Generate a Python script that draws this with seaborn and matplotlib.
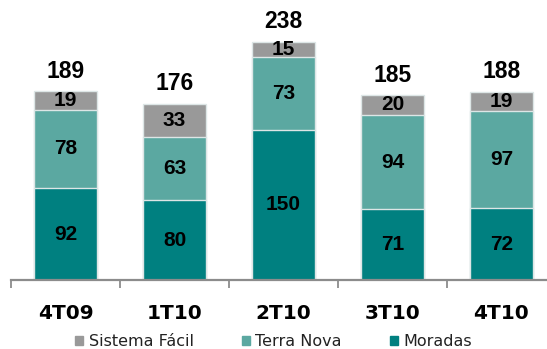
import matplotlib
matplotlib.use("Agg")
import matplotlib.pyplot as plt
import seaborn as sns
import pandas as pd
import numpy as np
from matplotlib.ticker import FixedLocator
from matplotlib.patches import Patch

categories = ["4T09", "1T10", "2T10", "3T10", "4T10"]
moradas = [92, 80, 150, 71, 72]
terra_nova = [78, 63, 73, 94, 97]
sistema_facil = [19, 33, 15, 20, 19]
totals = [189, 176, 238, 185, 188]

c_mor = "#008080"
c_tn = "#5ba8a1"
c_sf = "#999999"

df = pd.DataFrame({"cat": categories, "mor": moradas, "tn": terra_nova, "sf": sistema_facil})
df["top_tn"] = df["mor"] + df["tn"]
df["top_sf"] = df["top_tn"] + df["sf"]

sns.set_style("white")
plt.rcParams["font.family"] = ["DejaVu Sans"]
fig = plt.figure(figsize=(5.47, 3.49), dpi=100)
ax = fig.add_axes([11/547, 69/349, 545/547, 270/349])

ec = "#dde6e6"
kw = dict(x="cat", saturation=1, width=0.57, ax=ax, edgecolor=ec, linewidth=1.0)
sns.barplot(data=df, y="top_sf", color=c_sf, **kw)
sns.barplot(data=df, y="top_tn", color=c_tn, **kw)
sns.barplot(data=df, y="mor", color=c_mor, **kw)

ax.set_xlim(-0.5, 4.5)
ax.set_ylim(0, 270)
ax.set_xlabel("")
ax.set_ylabel("")
ax.set_yticks([])
for s in ["top", "right", "left"]:
    ax.spines[s].set_visible(False)
ax.spines["bottom"].set_color("#8c8c8c")
ax.spines["bottom"].set_linewidth(1.6)

ax.tick_params(axis="x", which="major", length=0, pad=17, labelsize=14.5)
for lbl in ax.get_xticklabels():
    lbl.set_fontweight("bold")
    lbl.set_color("black")
ax.xaxis.set_minor_locator(FixedLocator(np.arange(-0.5, 5.0, 1.0)))
ax.tick_params(axis="x", which="minor", bottom=True, length=6, width=1.3, color="#8c8c8c", direction="out")

arial = ["Liberation Sans", "DejaVu Sans"]
for i in range(len(categories)):
    m, t, s = moradas[i], terra_nova[i], sistema_facil[i]
    ax.text(i, m / 2, str(m), ha="center", va="center", fontsize=15, fontweight="bold", color="black", family=arial)
    ax.text(i, m + t / 2, str(t), ha="center", va="center", fontsize=15, fontweight="bold", color="black", family=arial)
    ax.text(i, m + t + s / 2, str(s), ha="center", va="center", fontsize=15, fontweight="bold", color="black", family=arial)
    ax.text(i, m + t + s + 20, str(totals[i]), ha="center", va="center", fontsize=16.5, fontweight="bold", color="black", family=arial)

handles = [Patch(color=c_sf, label="Sistema Fácil"), Patch(color=c_tn, label="Terra Nova"), Patch(color=c_mor, label="Moradas")]
leg = fig.legend(handles=handles, loc="center", bbox_to_anchor=(0.5, 7/349), ncol=3, frameon=False,
           fontsize=11.5, handlelength=0.5, handleheight=0.5, handletextpad=0.35, columnspacing=3.0)
for t in leg.get_texts():
    t.set_color("#222222")

fig.savefig("out.png", dpi=100)
